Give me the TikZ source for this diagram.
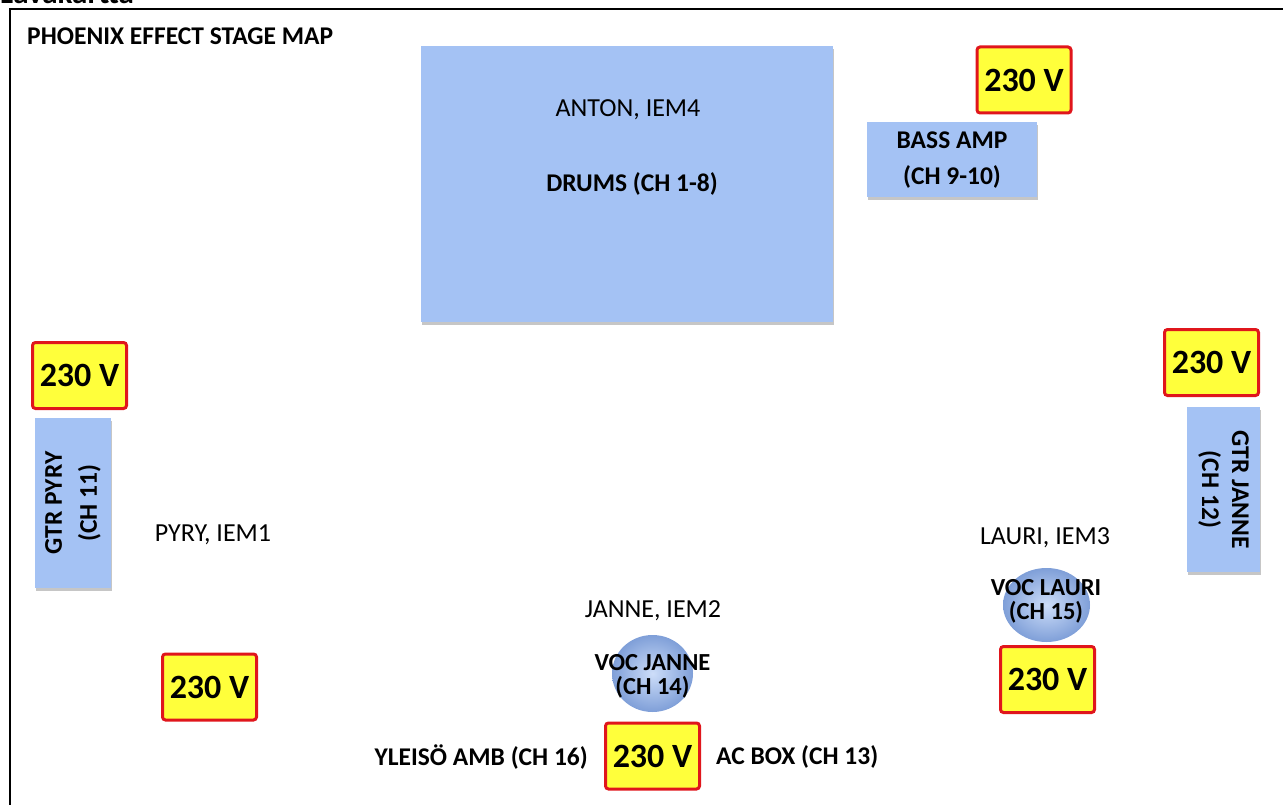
\documentclass[tikz,border=0pt]{standalone}
\usepackage{fontspec}
\setmainfont{Carlito}
\usetikzlibrary{shadows,shapes.geometric}
\definecolor{StageBlue}{HTML}{A4C2F4}
\definecolor{StageBlueDark}{HTML}{7F9FD8}
\definecolor{PlugYellow}{HTML}{FFFF3B}
\definecolor{PlugRed}{HTML}{E0161C}
\newcommand{\px}[2]{\fontsize{#1}{#2}\selectfont}

\begin{document}
\begin{tikzpicture}[x=1pt, y=-1pt,
  every node/.style={font=\px{26}{28}, inner sep=0pt, align=center},
  gear/.style={fill=StageBlue, drop shadow={opacity=0.45, shadow xshift=1pt, shadow yshift=-3pt}},
  mic/.style={ellipse, shade, inner color=StageBlue!55!white, outer color=StageBlueDark},
  plug/.style={draw=PlugRed, line width=3pt, fill=PlugYellow, rounded corners=3pt,
    minimum width=94pt, minimum height=66pt, font=\px{34}{36}\bfseries},
  tag/.style={font=\px{26}{28}},
  chan/.style={font=\px{25.5}{36}\bfseries}
]
\useasboundingbox (0,0) rectangle (1283,805);

% frame and titles
\node[anchor=base west, font=\px{31}{33}\bfseries] (sheet) at (0,4) {Lavakartta};
\draw[line width=2pt] (10,806) -- (10,9) -- (1284,9);
\node[anchor=west, font=\px{25.5}{27}\bfseries] (title) at (27,36) {PHOENIX EFFECT STAGE MAP};

% drums and bass
\node[gear, minimum width=412pt, minimum height=276pt] (drums) at (627,184) {};
\node[tag] (anton) at (628,110) {ANTON, IEM4};
\node[chan] (drumsch) at (632,184) {DRUMS (CH 1-8)};
\node[gear, chan, minimum width=170pt, minimum height=75pt] (bass) at (952,160) {BASS AMP\\(CH 9-10)};

% guitars
\node[gear, minimum width=76pt, minimum height=170pt] (gtrpyry) at (73,503) {};
\node[chan, font=\px{25.5}{35}\bfseries, rotate=90] (gtrpyrytxt) at (gtrpyry.center) {GTR PYRY\\(CH 11)};
\node[gear, minimum width=73pt, minimum height=165pt] (gtrjanne) at (1223.5,489.5) {};
\node[chan, font=\px{25.5}{30}\bfseries, rotate=-90] (gtrjannetxt) at (gtrjanne.center) {GTR JANNE\\(CH 12)};

% vocals
\node[mic, minimum width=81pt, minimum height=77pt] (vocjanne) at (652.5,673.5) {};
\node[font=\px{24.5}{24}\bfseries] (vocjannetxt) at (652.5,676) {VOC JANNE\\(CH 14)};
\node[mic, minimum width=87pt, minimum height=74pt] (voclauri) at (1046.5,605) {};
\node[font=\px{24.5}{24}\bfseries] (voclauritxt) at (1046,601) {VOC LAURI\\(CH 15)};

% players
\node[tag] (pyry) at (213,535) {PYRY, IEM1};
\node[tag] (janne) at (653,611) {JANNE, IEM2};
\node[tag] (lauri) at (1045,538) {LAURI, IEM3};

% power
\node[plug] (pwrbass) at (1024,80) {230 V};
\node[plug] (pwrpyry) at (79.5,375.5) {230 V};
\node[plug] (pwrjanne) at (1211.5,362.5) {230 V};
\node[plug] (pwrfront) at (209.5,687) {230 V};
\node[plug] (pwrlauri) at (1047.5,679.5) {230 V};
\node[plug] (pwrcenter) at (652.5,756) {230 V};

% front line
\node[chan, anchor=east] (amb) at (588,757) {YLEISÖ AMB (CH 16)};
\node[chan, anchor=west] (acbox) at (716,757) {AC BOX (CH 13)};
\end{tikzpicture}
\end{document}
